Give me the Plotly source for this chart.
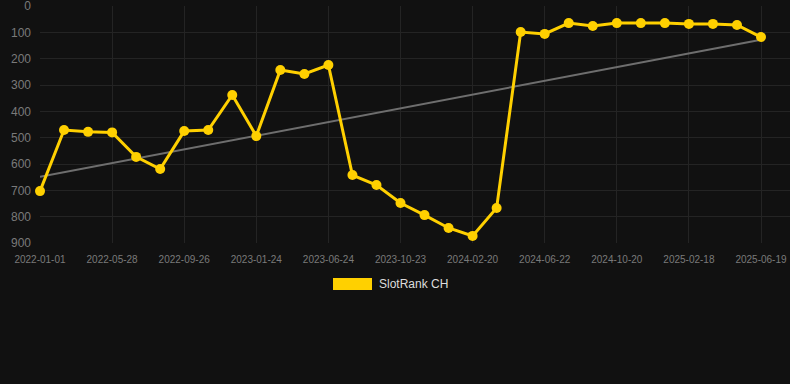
import numpy as np
import plotly.graph_objects as go

dates = [
    "2022-01-01", "2022-02-19", "2022-04-09",
    "2022-05-28", "2022-07-08", "2022-08-17",
    "2022-09-26", "2022-11-05", "2022-12-15",
    "2023-01-24", "2023-03-14", "2023-05-04",
    "2023-06-24", "2023-08-03", "2023-09-12",
    "2023-10-23", "2023-12-02", "2024-01-11",
    "2024-02-20", "2024-04-01", "2024-05-12",
    "2024-06-22", "2024-08-01", "2024-09-10",
    "2024-10-20", "2024-11-29", "2025-01-08",
    "2025-02-18", "2025-03-30", "2025-05-09",
    "2025-06-19",
]
rank_ch = [
    703, 471, 478, 480, 573, 619, 475, 471, 338, 494,
    243, 258, 224, 642, 680, 748, 794, 843, 873, 767,
    99, 106, 65, 76, 65, 65, 65, 68, 68, 72, 118,
]
tick_labels = dates[::3]
y_ticks = [0, 100, 200, 300, 400, 500, 600, 700, 800, 900]
series_name = "SlotRank CH"

idx = np.arange(len(rank_ch))
slope, intercept = np.polyfit(idx, np.array(rank_ch, dtype=float), 1)
trend = slope * idx + intercept

GOLD = "#FFD000"
BG = "#111111"
GRID = "#242424"

fig = go.Figure()
fig.add_trace(go.Scatter(
    x=dates, y=trend, mode="lines",
    line=dict(color="#6e6e6e", width=2),
    showlegend=False, hoverinfo="skip",
))
fig.add_trace(go.Scatter(
    x=dates, y=rank_ch, mode="lines+markers", name=series_name,
    line=dict(color=GOLD, width=3),
    marker=dict(color=GOLD, size=10),
    cliponaxis=False, showlegend=False,
))

L, R, T, B = 40, 0, 6, 141
W, H = 790, 384
pw, ph = W - L - R, H - T - B

def px_x(p):
    return (p - L) / pw

def px_y(p):
    return (H - B - p) / ph

fig.add_shape(type="rect", xref="paper", yref="paper",
              x0=px_x(333), x1=px_x(372), y0=px_y(290), y1=px_y(278),
              fillcolor=GOLD, line=dict(width=0))
fig.add_annotation(xref="paper", yref="paper", x=px_x(377), y=px_y(284),
                   text=series_name, showarrow=False, xanchor="left", yanchor="middle",
                   font=dict(color="#dddddd", size=12))

step = 721 / 30.0
x1 = 30 + (W - R - 761) / step
fig.update_layout(
    width=W, height=H,
    margin=dict(l=L, r=R, t=T, b=B),
    paper_bgcolor=BG, plot_bgcolor=BG,
    font=dict(family="Liberation Sans, Arial, sans-serif", color="#7a7a7a"),
    xaxis=dict(
        type="category", range=[0, x1],
        tickmode="array", tickvals=tick_labels, ticktext=tick_labels,
        showgrid=True, gridcolor=GRID, gridwidth=1,
        zeroline=False, showline=False, ticks="",
        ticklabelstandoff=9, ticklabeloverflow="allow",
        tickfont=dict(size=10, color="#7a7a7a"),
    ),
    yaxis=dict(
        range=[900, 0], tickmode="array", tickvals=y_ticks,
        showgrid=True, gridcolor=GRID, gridwidth=1,
        zeroline=False, showline=False, ticks="",
        ticklabelstandoff=8, ticklabeloverflow="allow",
        tickfont=dict(size=12, color="#7a7a7a"),
    ),
    showlegend=False,
)

fig.write_html(
    "out.html",
    config={"displayModeBar": False},
    post_script="document.body.style.margin='0';document.body.style.background='#111111';",
)
